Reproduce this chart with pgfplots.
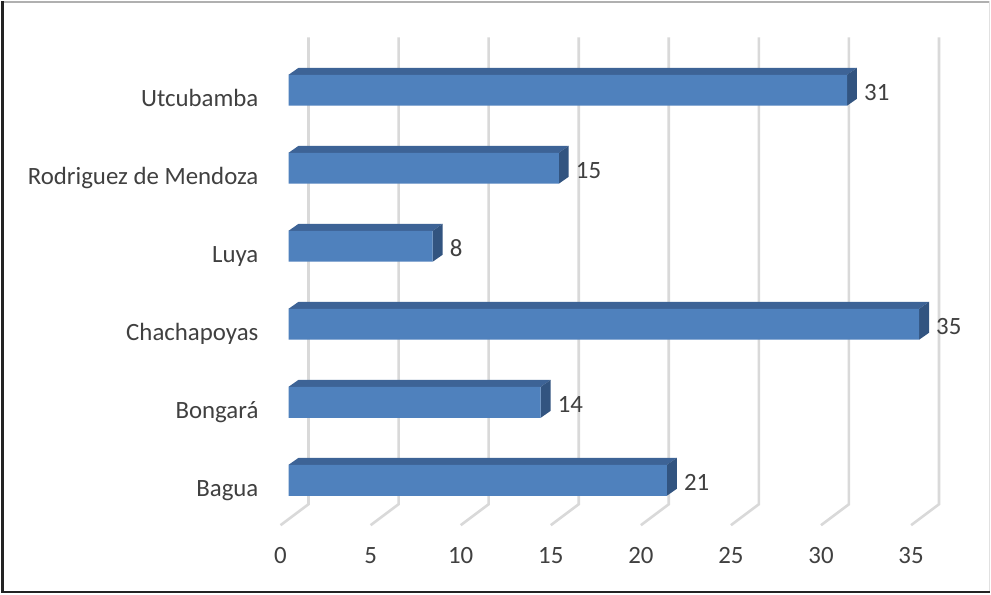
\documentclass[border=0pt]{standalone}
\usepackage{fontspec}
\setmainfont{Carlito}
\usepackage{pgfplots}
\usepackage{pgfplotstable}
\pgfplotsset{compat=1.18}
\definecolor{frontc}{RGB}{79,129,189}
\definecolor{topc}{RGB}{61,99,150}
\definecolor{sidec}{RGB}{50,84,128}
\definecolor{gridc}{RGB}{217,217,217}
\definecolor{txt}{RGB}{64,64,64}

% idx = category position (0 = bottom), val = value
\pgfplotstableread{
idx val
0 21
1 14
2 35
3 8
4 15
5 31
}\data

\begin{document}
\begin{tikzpicture}[x=1bp,y=1bp]
\fill[white] (0,0) rectangle (991,-593);
% frame
\draw[line width=1.5bp, draw={rgb,255:red,176;green,176;blue,176}] (0,-0.75) -- (991,-0.75);
\draw[line width=1bp, draw={rgb,255:red,225;green,225;blue,225}] (990.5,0) -- (990.5,-593);
\draw[line width=3bp, draw={rgb,255:red,35;green,35;blue,35}] (1.5,0) -- (1.5,-593);
\draw[line width=2.5bp, draw={rgb,255:red,35;green,35;blue,35}] (0,-591.75) -- (991,-591.75);
\begin{axis}[
  at={(280bp,-525bp)}, anchor=south west,
  scale only axis, width=632.9bp, height=475.1bp,
  xmin=-0.443, xmax=34.6, ymin=-0.5754, ymax=5.5,
  clip=false, axis line style={draw=none}, major tick length=0pt,
  xtick={-0.443,4.557,9.557,14.557,19.557,24.557,29.557,34.557},
  xticklabels={0,5,10,15,20,25,30,35},
  ytick={0,1,2,3,4,5},
  yticklabels={Bagua,Bongará,Chachapoyas,Luya,Rodriguez de Mendoza,Utcubamba},
  ticklabel style={font=\fontsize{25}{29}\selectfont, text=txt, inner sep=0pt},
  xticklabel style={anchor=base, yshift=-38bp},
  yticklabel style={anchor=base east, xshift=-22bp, yshift=-16bp},
  /pgf/number format/assume math mode=true,
]
% grid lines on the back wall and floor
\pgfplotsinvokeforeach{-0.443,4.557,9.557,14.557,19.557,24.557,29.557,34.557}{
  \draw[gridc, line width=2.6bp] (axis cs:#1,-0.5754) -- ++(28bp,21bp) -- ++(0bp,468bp);
}
% depth faces (top and side) of each bar
\pgfplotsinvokeforeach{0,...,5}{
  \pgfplotstablegetelem{#1}{val}\of\data
  \let\cv\pgfplotsretval
  \pgfplotstablegetelem{#1}{idx}\of\data
  \let\ci\pgfplotsretval
  \pgfmathsetmacro\yt{\ci+0.1982}
  \pgfmathsetmacro\yb{\ci-0.1982}
  \pgfmathsetmacro\ytt{\yt+0.0895}
  \pgfmathsetmacro\ybb{\yb+0.0895}
  \pgfmathsetmacro\xr{\cv+0.5537}
  \edef\tmp{\noexpand\addplot[fill=topc, draw=none, forget plot] coordinates {(0,\yt) (\cv,\yt) (\xr,\ytt) (0.5537,\ytt)} -- cycle;}\tmp
  \edef\tmp{\noexpand\addplot[fill=sidec, draw=none, forget plot] coordinates {(\cv,\yb) (\cv,\yt) (\xr,\ytt) (\xr,\ybb)} -- cycle;}\tmp
}
% front faces
\addplot[xbar, bar width=31bp, fill=frontc, draw=none,
  point meta=x, nodes near coords,
  every node near coord/.append style={font=\fontsize{25}{29}\selectfont, text=txt,
    anchor=base west, inner sep=0pt, xshift=17bp, yshift=-10bp}]
  table[x=val, y=idx] {\data};
\end{axis}
\end{tikzpicture}
\end{document}
